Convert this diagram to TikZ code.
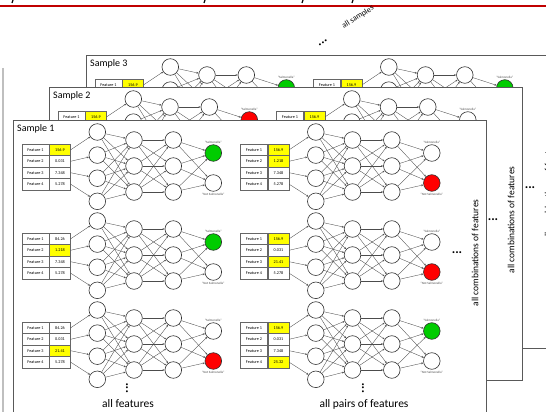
\documentclass[tikz,border=0pt]{standalone}
\usepackage{fontspec}
\setmainfont{Carlito}
\usetikzlibrary{positioning, arrows.meta}

\definecolor{salgreen}{RGB}{0,204,0}
\definecolor{salred}{RGB}{255,0,0}
\definecolor{hlyellow}{RGB}{255,255,0}
\definecolor{slidered}{RGB}{192,0,0}

\tikzset{
  neuron/.style={circle, draw=black!80, fill=white, line width=0.6pt, minimum size=16.6pt, inner sep=0pt},
  featcell/.style={draw=black!60, line width=0.5pt, fill=white, minimum height=11.5pt, inner sep=0pt, font=\fontsize{4.2}{5}\selectfont},
  featname/.style={featcell, minimum width=27pt},
  featval/.style={featcell, minimum width=21pt, fill=#1},
  featval/.default=white,
  synapse/.style={draw=black!70, line width=0.35pt, -{Stealth[length=2.2pt,width=1.8pt]}},
  outlbl/.style={font=\fontsize{3.2}{4}\selectfont, text=black!70, inner sep=0.5pt},
  panel/.style={draw=black!65, line width=0.7pt, fill=white, inner sep=0pt},
  caption/.style={font=\fontsize{10}{12}\selectfont, inner sep=0pt},
  bigcaption/.style={font=\fontsize{11.5}{13}\selectfont, inner sep=0pt},
  moredots/.style={font=\bfseries\fontsize{13}{14}\selectfont, inner sep=0pt},
}

% one network with its feature table
\newcommand{\featnet}[5]{%
  \begin{scope}[shift={#2}]
    % feature table
    \foreach \val/\hl [count=\i] in {#3} {
      \node[featname] (#1-f\i) at (13.5, {5.75+11.5*(\i-1)}) {Feature \i};
      \node[featval=\hl, right=0pt of #1-f\i] (#1-v\i) {\val};
    }
    % layers
    \foreach \i in {1,...,4}
      \node[neuron] (#1-i\i) at (75.3, {-12+23.1*(\i-1)}) {};
    \foreach \j in {1,2,3} {
      \node[neuron] (#1-a\j) at (112, {-4+26*(\j-1)}) {};
      \node[neuron] (#1-b\j) at (151.3, {-4+26*(\j-1)}) {};
    }
    \node[neuron, fill=#4] (#1-o1) at (191.3, 9) {};
    \node[neuron, fill=#5] (#1-o2) at (191.3, 39) {};
    \node[outlbl, above=0.4pt of #1-o1] (#1-yes) {``Salmonella''};
    \node[outlbl, below=0.4pt of #1-o2] (#1-no) {``Not Salmonella''};
    % connections
    \foreach \i in {1,...,4} {
      \draw[synapse] (#1-v\i.east) -- (#1-i\i);
      \foreach \j in {1,2,3}
        \draw[synapse] (#1-i\i) -- (#1-a\j);
    }
    \foreach \j in {1,2,3} {
      \foreach \k in {1,2,3}
        \draw[synapse] (#1-a\j) -- (#1-b\k);
      \foreach \k in {1,2}
        \draw[synapse] (#1-b\j) -- (#1-o\k);
    }
  \end{scope}}

% one sample sheet with six networks
\newcommand{\samplepanel}[7]{%
  \begin{scope}[shift={#2}]
    \node[panel, minimum width=473pt, minimum height=293pt, anchor=north west] (#1) at (13,120) {};
    \node[caption, anchor=west] (#1-title) at (17,129) {Sample #3};
    % single features
    \featnet{#1-la}{(22,144)}{156.9/hlyellow,0.031/white,7.348/white,5.278/white}{#4}{#5}
    \featnet{#1-lb}{(22,233)}{84.26/white,1.218/hlyellow,7.348/white,5.278/white}{salgreen}{white}
    \featnet{#1-lc}{(22,322)}{84.26/white,0.031/white,21.41/hlyellow,5.278/white}{white}{salred}
    % pairs of features
    \featnet{#1-ra}{(240.5,144)}{156.9/hlyellow,1.218/hlyellow,7.348/white,5.278/white}{#6}{#7}
    \featnet{#1-rb}{(240.5,233)}{156.9/hlyellow,0.031/white,21.41/hlyellow,5.278/white}{white}{salred}
    \featnet{#1-rc}{(240.5,322)}{156.9/hlyellow,0.031/white,7.348/white,25.32/hlyellow}{salgreen}{white}
    % continuation marks
    \node[moredots, rotate=90] (#1-dl) at (127,388) {...};
    \node[bigcaption] (#1-allf) at (128,404) {all features};
    \node[moredots, rotate=90] (#1-dr) at (363,388) {...};
    \node[bigcaption] (#1-allp) at (364,404) {all pairs of features};
    \node[moredots] (#1-din) at (457,253) {...};
    \node[caption, rotate=90, font=\fontsize{9.5}{11}\selectfont] (#1-comb) at (475,253) {all combinations of features};
  \end{scope}}

\begin{document}
\begin{tikzpicture}[x=1pt, y=-1pt]
  \useasboundingbox (0,0) rectangle (546,412);
  \clip (0,0) rectangle (546,412);

  % slide header
  \draw[slidered, line width=2.5pt] (0,5.8) -- (546,5.8);
  \foreach \px in {13,205,303,353}
    \draw[black, line width=1.2pt] (\px,0) -- (\px-1,3);
  \draw[black!25, line width=1.2pt] (3,68) -- (3,412);

  % stacked samples
  \samplepanel{s3}{(73,-65)}{3}{salgreen}{white}{salgreen}{white}
  \samplepanel{s2}{(36,-33)}{2}{salred}{white}{white}{salred}
  \samplepanel{s1}{(0,0)}{1}{salgreen}{white}{white}{salred}

  % more samples
  \node[moredots, rotate=35] (alldots) at (323,43) {...};
  \node[font=\fontsize{8}{9}\selectfont, rotate=32, inner sep=0pt] (allsamples) at (358,17) {all samples};
\end{tikzpicture}
\end{document}
